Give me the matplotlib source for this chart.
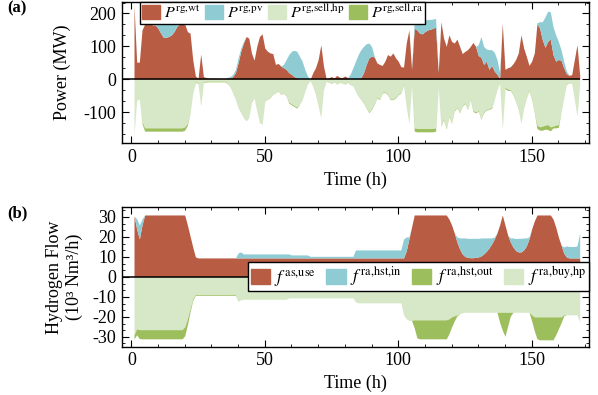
import matplotlib
matplotlib.use('Agg')
import matplotlib.pyplot as plt
import numpy as np
from matplotlib.ticker import MultipleLocator, AutoMinorLocator
from matplotlib.patches import Patch

plt.rcParams['font.family'] = ['Liberation Serif', 'DejaVu Serif']
plt.rcParams['mathtext.fontset'] = 'stix'
plt.rcParams['axes.unicode_minus'] = False

# hours 1..168
hours = np.arange(1, 169)

# ---- panel (a): power (MW) ----
p_wt = [225, 52, 52, 150, 168, 170, 168, 165, 165, 155,
        140, 127, 128, 130, 135, 145, 160, 168, 170, 168,
        145, 140, 60, 10, 3, 77, 8, 5, 3, 3,
        3, 3, 2, 2, 2, 3, 3, 8, 20, 50,
        85, 110, 130, 125, 80, 58, 100, 130, 138, 95,
        85, 80, 78, 45, 48, 40, 35, 30, 20, 15,
        8, 5, 0, 0, 0, 0, 0, 20, 35, 60,
        105, 40, 2, 5, 8, 4, 12, 6, 5, 10,
        5, 0, 0, 0, 0, 5, 20, 45, 65, 70,
        68, 50, 45, 42, 55, 75, 70, 80, 65, 55,
        38, 37, 110, 150, 30, 155, 150, 140, 138, 145,
        150, 152, 155, 158, 20, 175, 125, 100, 135, 115,
        110, 122, 100, 78, 85, 90, 100, 112, 100, 72,
        67, 45, 55, 30, 42, 25, 15, 3, 170, 30,
        35, 38, 47, 60, 80, 135, 95, 70, 42, 55,
        80, 170, 155, 120, 97, 115, 122, 75, 55, 60,
        58, 35, 17, 12, 14, 60, 105, 12]
p_pv = [0, 0, 0, 0, 0, 0, 0, 0, 0, 17,
        32, 48, 47, 46, 41, 31, 12, 2, 0, 0,
        0, 0, 0, 0, 0, 0, 0, 0, 0, 0,
        0, 0, 0, 0, 0, 3, 5, 7, 10, 15,
        10, 5, 0, 0, 0, 0, 0, 0, 0, 0,
        0, 0, 0, 0, 0, 0, 10, 30, 55, 70,
        80, 80, 70, 55, 30, 10, 0, 0, 0, 0,
        0, 0, 0, 0, 0, 0, 0, 0, 0, 0,
        0, 15, 35, 55, 75, 85, 80, 63, 45, 30,
        2, 0, 0, 0, 0, 0, 0, 0, 0, 0,
        0, 0, 0, 0, 0, 25, 30, 38, 40, 35,
        32, 30, 28, 27, 0, 0, 0, 0, 0, 0,
        0, 0, 0, 0, 0, 0, 0, 0, 0, 33,
        63, 55, 37, 60, 48, 57, 45, 17, 0, 0,
        0, 0, 0, 0, 0, 0, 0, 0, 0, 0,
        0, 2, 20, 55, 93, 92, 83, 85, 80, 55,
        32, 20, 8, 0, 0, 0, 0, 0]
p_sell_hp = [170, 65, 60, 130, 148, 148, 148, 148, 148, 148,
             148, 148, 148, 148, 148, 148, 148, 148, 148, 145,
             135, 100, 40, 8, 10, 78, 8, 6, 6, 6,
             6, 6, 6, 6, 6, 10, 22, 40, 60, 85,
             100, 115, 125, 115, 70, 55, 95, 130, 135, 65,
             60, 55, 45, 40, 35, 45, 42, 50, 70, 75,
             80, 85, 75, 60, 35, 12, 2, 20, 45, 80,
             115, 30, 5, 8, 12, 6, 14, 8, 10, 14,
             8, 15, 18, 35, 50, 60, 70, 85, 100, 90,
             75, 55, 60, 40, 38, 45, 60, 60, 55, 45,
             40, 15, 80, 130, 15, 148, 150, 150, 150, 150,
             150, 150, 150, 148, 22, 140, 120, 148, 112, 132,
             95, 85, 100, 80, 72, 90, 60, 95, 100, 95,
             120, 100, 92, 90, 85, 60, 30, 10, 150, 25,
             30, 32, 45, 65, 90, 130, 85, 55, 33, 60,
             100, 140, 145, 143, 140, 138, 145, 143, 140, 138,
             100, 55, 15, 10, 10, 60, 110, 12]
p_sell_ra = [0, 0, 0, 5, 10, 10, 10, 10, 10, 10,
             10, 10, 10, 10, 10, 10, 10, 10, 10, 10,
             5, 2, 1, 2, 2, 2, 2, 2, 2, 2,
             2, 2, 2, 2, 2, 2, 1, 1, 1, 1,
             1, 1, 1, 1, 1, 1, 1, 1, 1, 1,
             1, 1, 1, 1, 1, 1, 1, 1, 3, 3,
             3, 3, 1, 1, 1, 1, 1, 1, 1, 1,
             1, 1, 1, 1, 1, 1, 1, 1, 1, 1,
             1, 1, 1, 1, 1, 1, 2, 2, 2, 2,
             2, 2, 2, 2, 2, 2, 2, 2, 2, 2,
             2, 2, 2, 2, 2, 10, 10, 10, 10, 10,
             10, 10, 10, 10, 1, 3, 3, 3, 2, 2,
             2, 2, 2, 2, 2, 2, 2, 3, 3, 2,
             2, 2, 2, 2, 3, 1, 1, 1, 1, 4,
             4, 2, 2, 2, 2, 2, 2, 2, 2, 2,
             2, 10, 10, 12, 12, 15, 12, 5, 8, 8,
             1, 1, 1, 1, 1, 1, 1, 1]

# ---- panel (b): hydrogen flow (10^3 Nm3/h) ----
f_as_use = [30.5, 24, 19, 26, 31, 31, 31, 31, 31, 31,
            31, 31, 31, 31, 31, 31, 31, 31, 31, 31,
            26, 20.5, 15, 10, 9.5, 9.5, 9.5, 9.5, 9.5, 9.5,
            9.5, 9.5, 9.5, 9.5, 9.5, 9.5, 9.5, 9.5, 9.5, 9.5,
            9.5, 9.5, 9.5, 9.5, 9.5, 9.5, 9.5, 9.5, 9.5, 9.5,
            9.5, 9.5, 9.5, 9.5, 9.5, 9.5, 9.5, 9.5, 9.5, 9.5,
            9.5, 9.5, 9.5, 9.5, 9.5, 9.5, 9.5, 9.5, 9.5, 9.5,
            9.5, 9.5, 9.5, 9.5, 9.5, 9.5, 9.5, 9.5, 9.5, 9.5,
            9.5, 9.5, 9.5, 9.5, 9.5, 9.5, 9.5, 9.5, 9.5, 9.5,
            9.5, 9.5, 9.5, 9.5, 9.5, 9.5, 9.5, 9.5, 9.5, 9.5,
            9.5, 9.5, 13, 19, 25, 31, 31, 31, 31, 31,
            31, 31, 31, 31, 31, 31, 31, 31, 29, 26,
            22, 17.5, 14, 11.5, 10.2, 9.8, 9.6, 9.6, 9.8, 10,
            10.5, 11.5, 12.8, 14.5, 16.5, 19, 22, 26, 31, 26,
            21, 17.5, 15, 13.2, 12.5, 12.5, 13.5, 15.5, 19, 24,
            28, 31, 31, 31, 31, 31, 31, 29, 25, 20,
            16, 12, 10, 9.5, 9.5, 9.5, 9.5, 9.5]
f_hst_in = [0, 5, 7, 3, 0, 0, 0, 0, 0, 0,
            0, 0, 0, 0, 0, 0, 0, 0, 0, 0,
            0, 0, 0, 0, 0, 0, 0, 0, 0, 0,
            0, 0, 0, 0, 0, 0, 0, 0, 0, 2.5,
            3, 2, 2, 2, 2, 2, 2, 2, 2, 2,
            2, 2, 2, 2, 2, 2, 2, 2, 2, 1.5,
            1.5, 1.5, 1.5, 1.5, 1.5, 1.5, 0.8, 0.8, 0.8, 0.8,
            0.8, 0.8, 0.8, 0.8, 0.8, 0.8, 0.8, 0.8, 0.8, 0.8,
            0.8, 0.8, 0.8, 4, 4, 4, 4, 4, 4, 4,
            4, 4, 4, 4, 4, 4, 4, 4, 4, 4,
            4, 9.5, 7, 1, 0, 0, 0, 0, 0, 0,
            0, 0, 0, 0, 0, 0, 0, 0, 0, 0,
            0, 2.5, 5.5, 8, 9.3, 9.5, 9.7, 9.7, 9.5, 9.3,
            9, 8, 6.7, 5, 3, 1, 0, 0, 0, 0,
            0, 2, 4.5, 6, 6.8, 6.8, 6, 4, 1, 0,
            0, 0, 0, 0, 0, 0, 0, 0, 0, 0,
            0, 3, 5.5, 5.7, 5.7, 5.7, 6, 12.5]
f_hst_out = [2, 3, 4.5, 4.6, 4.6, 4.6, 4.6, 4.6, 4.6, 4.6,
             4.6, 4.6, 4.6, 4.6, 4.6, 4.6, 4.6, 4.6, 4.6, 4.5,
             3, 1.5, 0.8, 0.4, 0.4, 0.4, 0.4, 0.4, 0.4, 0.4,
             0.4, 0.4, 0.4, 0.4, 0.4, 0.4, 0.4, 0.4, 0.4, 0,
             0, 0, 0, 0, 0, 0, 0, 0, 0, 0,
             0, 0, 0, 0, 0, 0, 0, 0, 0, 0,
             0, 0, 0, 0, 0, 0, 0, 0, 0, 0,
             0, 0, 0, 0, 0, 0, 0, 0, 0, 0,
             0, 0, 0, 0, 0, 0, 0, 0, 0, 0,
             0, 0, 0, 0, 0, 0, 0, 0, 0, 0,
             0, 0, 0, 0, 0, 4, 9, 9.5, 9.5, 9.5,
             9.5, 9.5, 9.5, 9.5, 9.5, 9.5, 9.5, 9.5, 7.5, 5,
             2.5, 0.5, 0, 0, 0, 0, 0, 0, 0, 0,
             0, 0, 0, 0, 0, 0, 0, 5, 9, 12,
             7, 2, 0, 0, 0, 0, 0, 0, 0, 3,
             7, 11, 11.5, 11.5, 11.5, 11.5, 11.5, 11.5, 9, 6,
             3, 0.5, 0, 0, 0, 0, 0, 0]
f_buy_hp = [29, 26, 26.4, 26.4, 26.4, 26.4, 26.4, 26.4, 26.4, 26.4,
            26.4, 26.4, 26.4, 26.4, 26.4, 26.4, 26.4, 26.4, 26.4, 25,
            21, 16, 11, 8.8, 8.8, 8.8, 8.8, 8.8, 8.8, 8.8,
            8.8, 8.8, 8.8, 8.8, 8.8, 8.8, 8.8, 8.8, 8.8, 12.3,
            11.5, 11.2, 11.2, 11.2, 11.2, 11.2, 11.2, 11.2, 11.2, 11.2,
            11.2, 11.2, 11.2, 11.2, 11.2, 11.2, 11.2, 11.2, 10.5, 10.5,
            10.5, 10.5, 10.5, 10.5, 10.5, 10.5, 10.5, 10.5, 10.5, 10.5,
            10.5, 10.5, 10.5, 10.5, 10.5, 10.5, 10.5, 10.5, 10.5, 10.5,
            10.5, 10.5, 10.5, 12.5, 13, 13, 13, 13, 13, 13,
            13, 13, 13, 13, 13, 13, 13, 13, 13, 13,
            13, 19, 21, 21.8, 21.8, 21.5, 21.5, 21.5, 21.5, 21.5,
            21.5, 21.5, 21.5, 21.5, 21.5, 21.5, 21.5, 21.5, 21, 20,
            19.5, 19, 18.5, 18, 17.7, 17.7, 17.7, 17.7, 17.7, 17.7,
            17.7, 17.7, 17.7, 17.7, 17.7, 17.7, 17.7, 17.7, 17.7, 17.7,
            17.7, 17.7, 17.7, 17.7, 17.7, 17.7, 17.7, 17.7, 17.7, 19,
            20, 20, 20, 20, 20, 20, 20, 20, 20, 20,
            20, 19, 19, 19, 19, 19, 19, 22.5]

RED = '#b85c44'
TEAL = '#8ecbd3'
LGREEN = '#d6e8c8'
DGREEN = '#9dbe5c'


def stack(ax, up1, up2, dn1, dn2):
    up1 = np.array(up1, float)
    up2 = np.array(up2, float)
    dn1 = np.array(dn1, float)
    dn2 = np.array(dn2, float)
    ax.fill_between(hours, 0, up1, color=RED, lw=0)
    ax.fill_between(hours, up1, up1 + up2, color=TEAL, lw=0)
    ax.fill_between(hours, 0, -dn1, color=LGREEN, lw=0)
    ax.fill_between(hours, -dn1, -dn1 - dn2, color=DGREEN, lw=0)
    ax.hlines(0, -3.5, hours[-1], color='k', lw=1.1, zorder=3)


def style(ax):
    ax.set_xlim(-3.5, 171.5)
    ax.xaxis.set_major_locator(MultipleLocator(50))
    ax.xaxis.set_minor_locator(MultipleLocator(10))
    ax.yaxis.set_minor_locator(AutoMinorLocator(3))
    ax.tick_params(which='both', direction='in', top=True, right=True,
                   labelsize=13, pad=4)
    ax.tick_params(which='major', length=5, width=0.8)
    ax.tick_params(which='minor', length=2.5, width=0.6)
    for s in ax.spines.values():
        s.set_linewidth(1.0)
    ax.set_xlabel('Time (h)', fontsize=13)
    ax.xaxis.set_label_coords(0.5, -0.2)


def legend(ax, handles, labels, anchor, fs, colsp):
    lg = ax.legend(handles, labels, ncol=4, loc='upper left', bbox_to_anchor=anchor,
                   borderaxespad=0, fontsize=fs, handlelength=1.1, handleheight=1.0,
                   handletextpad=0.25, columnspacing=colsp, borderpad=0.15,
                   fancybox=False, framealpha=1, edgecolor='k')
    lg.get_frame().set_linewidth(1.0)
    return lg


fig = plt.figure(figsize=(5.98, 3.95), dpi=100)
ax1 = fig.add_axes([0.204, 0.638, 0.781, 0.357])
ax2 = fig.add_axes([0.204, 0.122, 0.781, 0.354])

# (a)
stack(ax1, p_wt, p_pv, p_sell_hp, p_sell_ra)
style(ax1)
ax1.set_ylim(-194, 235)
ax1.yaxis.set_major_locator(MultipleLocator(100))
ax1.set_ylabel('Power (MW)', fontsize=13)
ax1.yaxis.set_label_coords(-0.11, 0.5)
h1 = [Patch(color=c) for c in (RED, TEAL, LGREEN, DGREEN)]
lab1 = [r'$P^{\mathrm{rg{,}wt}}$', r'$P^{\mathrm{rg{,}pv}}$',
        r'$P^{\mathrm{rg{,}sell{,}hp}}$', r'$P^{\mathrm{rg{,}sell{,}ra}}$']
legend(ax1, h1, lab1, (0.038, 1.0), 11.5, 0.3)

# (b)
stack(ax2, f_as_use, f_hst_in, f_buy_hp, f_hst_out)
style(ax2)
ax2.set_ylim(-35, 35)
ax2.yaxis.set_major_locator(MultipleLocator(10))
ax2.set_ylabel('Hydrogen Flow\n(10³ Nm³/h)', fontsize=13, linespacing=1.25)
ax2.yaxis.set_label_coords(-0.083, 0.5)
h2 = [Patch(color=c) for c in (RED, TEAL, DGREEN, LGREEN)]
lab2 = [r'$f^{\,\mathrm{as{,}use}}$', r'$f^{\,\mathrm{ra{,}hst{,}in}}$',
        r'$f^{\,\mathrm{ra{,}hst{,}out}}$', r'$f^{\,\mathrm{ra{,}buy{,}hp}}$']
legend(ax2, h2, lab2, (0.27, 0.607), 12.5, 0.6)

fig.text(0.012, 0.968, '(a)', fontsize=12, fontweight='bold')
fig.text(0.012, 0.45, '(b)', fontsize=12, fontweight='bold')

fig.savefig('out.png', dpi=100)
